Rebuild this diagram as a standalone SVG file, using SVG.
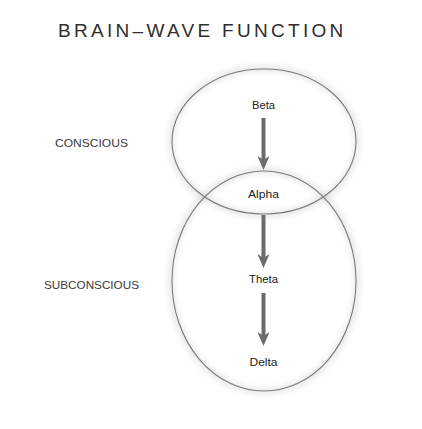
<svg xmlns="http://www.w3.org/2000/svg" width="422" height="429" viewBox="0 0 422 429">
  <defs>
    <filter id="soft" x="-20%" y="-20%" width="140%" height="140%">
      <feGaussianBlur stdDeviation="3"/>
    </filter>
    <marker id="head" viewBox="0 0 14 12" refX="5" refY="6" markerWidth="14" markerHeight="12" markerUnits="userSpaceOnUse" orient="auto">
      <path d="M0,0 L4,6 L0,12 L14,6 Z" fill="#6b6b6b"/>
    </marker>
  </defs>
  <style>
    .title { font-family: "Liberation Sans", Arial, sans-serif; font-size: 19px; fill: #2e2e2e; letter-spacing: 3.3px; }
    .side { font-family: "Liberation Sans", Arial, sans-serif; font-size: 11px; fill: #3a3a3a; }
    .wave { font-family: "Liberation Sans", Arial, sans-serif; font-size: 10.5px; fill: #222; text-anchor: middle; }
    .shell { fill: none; stroke: #7a7a7a; stroke-width: 1.1; }
    .glow { fill: none; stroke: #999; stroke-width: 4; opacity: 0.35; filter: url(#soft); }
    .arrow { stroke: #6b6b6b; stroke-width: 4; fill: none; }
  </style>
  <rect width="422" height="429" fill="#ffffff"/>

  <text class="title" x="58" y="37">BRAIN–WAVE FUNCTION</text>

  <g id="conscious-label"><text class="side" x="55" y="147" textLength="73" lengthAdjust="spacingAndGlyphs">CONSCIOUS</text></g>
  <g id="subconscious-label"><text class="side" x="44" y="289" textLength="95" lengthAdjust="spacingAndGlyphs">SUBCONSCIOUS</text></g>

  <g id="conscious">
    <ellipse class="glow" cx="264" cy="141.5" rx="93" ry="73"/>
    <ellipse class="shell" cx="264" cy="141.5" rx="92" ry="72.5"/>
  </g>
  <g id="subconscious">
    <ellipse class="glow" cx="264" cy="281" rx="93" ry="110.5"/>
    <ellipse class="shell" cx="264" cy="281" rx="92" ry="110"/>
  </g>

  <g id="beta"><text class="wave" x="263.5" y="109" textLength="23" lengthAdjust="spacingAndGlyphs">Beta</text></g>
  <g id="alpha"><text class="wave" x="263.5" y="198" textLength="31" lengthAdjust="spacingAndGlyphs">Alpha</text></g>
  <g id="theta"><text class="wave" x="263.5" y="283" textLength="29" lengthAdjust="spacingAndGlyphs">Theta</text></g>
  <g id="delta"><text class="wave" x="263.5" y="366" textLength="28" lengthAdjust="spacingAndGlyphs">Delta</text></g>

  <g id="connectors">
    <line class="arrow" x1="263.5" y1="118" x2="263.5" y2="161" marker-end="url(#head)"/>
    <line class="arrow" x1="263.5" y1="215" x2="263.5" y2="259" marker-end="url(#head)"/>
    <line class="arrow" x1="263.5" y1="293" x2="263.5" y2="337" marker-end="url(#head)"/>
  </g>
</svg>
